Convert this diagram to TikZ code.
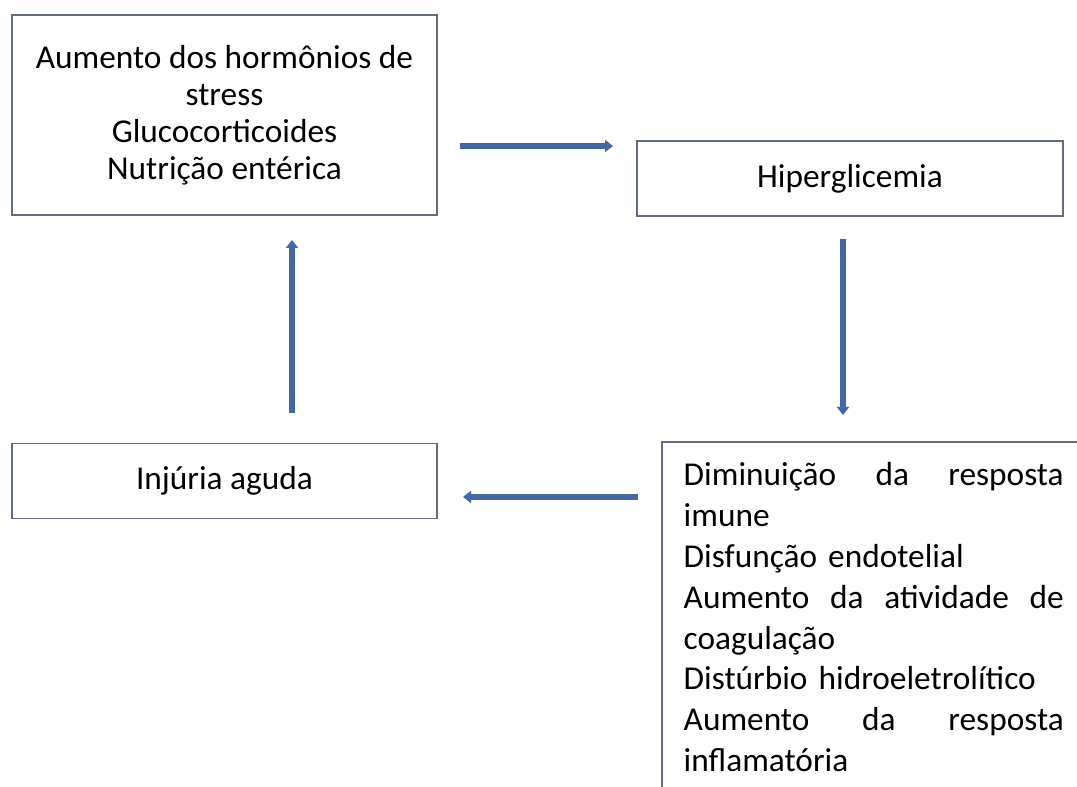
\documentclass[tikz,border=0pt]{standalone}
\usepackage{fontspec}
\setmainfont{Carlito}
\usetikzlibrary{arrows.meta}

\definecolor{boxline}{RGB}{98,108,128}
\definecolor{arrowblue}{RGB}{66,104,168}

\tikzset{
  caixa/.style={draw=boxline, line width=1.1pt, rectangle, inner sep=0pt, align=center,
    font=\fontsize{25}{27.75}\selectfont},
  seta/.style={draw=arrowblue, line width=4.5pt, -{Triangle[length=6pt,width=9pt]}}
}

\begin{document}
\begin{tikzpicture}[x=0.75pt,y=0.75pt,yscale=-1,xscale=1]
\clip (0,0) rectangle (1077,787);
\useasboundingbox (0,0) rectangle (1077,787);

% Boxes
\node [caixa, minimum width=318.75pt, minimum height=150pt] (stress) at (224.5,115)
  {Aumento dos hormônios de\\stress\\Glucocorticoides\\Nutrição entérica};
\node [caixa, minimum width=319.5pt, minimum height=56.25pt] (hiper) at (850,178.5) {Hiperglicemia};
\node [caixa, minimum width=318.75pt, minimum height=56.25pt] (injuria) at (224.5,481) {Injúria aguda};
\node [caixa, draw=none, anchor=north west, text width=285pt, align=left, inner xsep=15.75pt, inner ysep=15pt,
  font=\fontsize{25}{30.6}\selectfont] (efeitos) at (662,442)
  {Diminuição\hfill da\hfill resposta\\imune\\Disfunção endotelial\\
   Aumento\hfill da\hfill atividade\hfill de\\coagulação\\Distúrbio hidroeletrolítico\\
   Aumento\hfill da\hfill resposta\\inflamatória};
\draw [boxline, line width=1.1pt] ([yshift=40pt]efeitos.south west) -- (efeitos.north west)
  -- ([xshift=20pt]efeitos.north east);

% Arrow ends
\coordinate (s1) at (460,146);
\coordinate (s2) at (613,146);
\coordinate (b1) at (843,239);
\coordinate (b2) at (843,415);
\coordinate (e1) at (638,497);
\coordinate (e2) at (463,497);
\coordinate (c1) at (292,413);
\coordinate (c2) at (292,240);

% Arrows
\draw [seta] (s1) -- (s2);
\draw [seta] (b1) -- (b2);
\draw [seta] (e1) -- (e2);
\draw [seta] (c1) -- (c2);

\end{tikzpicture}
\end{document}
